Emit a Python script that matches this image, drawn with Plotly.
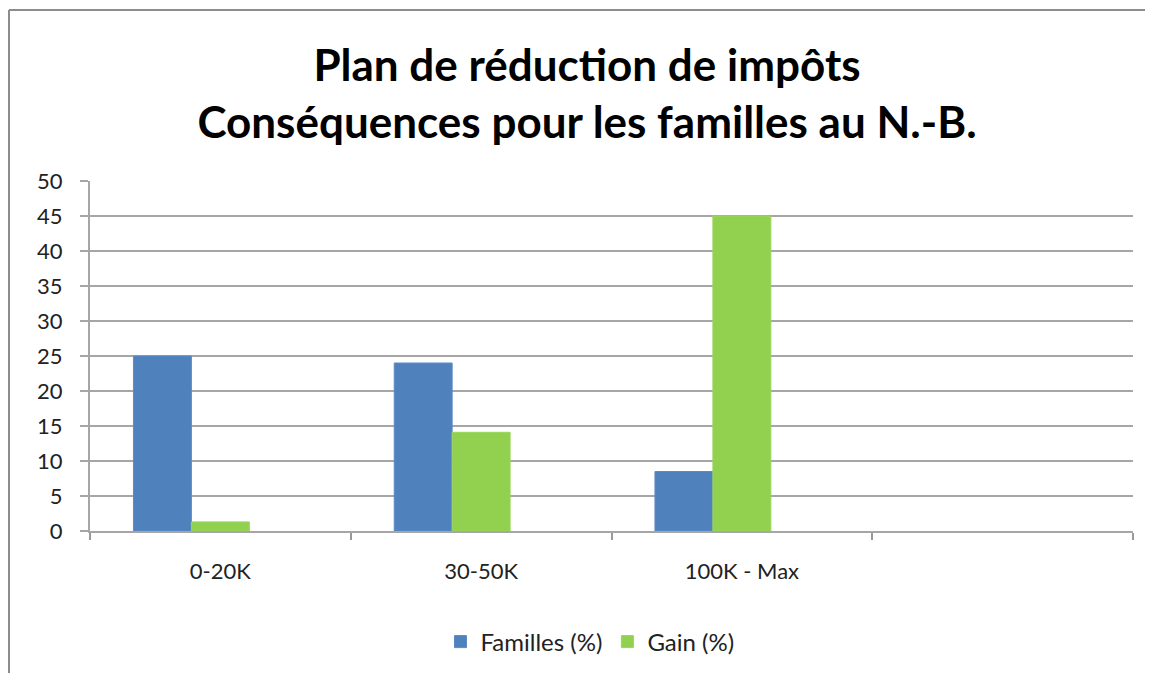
import plotly.graph_objects as go

categories = ["0-20K", "30-50K", "100K - Max", " "]
familles = [25, 24, 8.5, None]
gain = [1.3, 14.1, 45, None]
empty_series = [None, None, None, None]

title_line1 = "Plan de réduction de impôts"
title_line2 = "Conséquences pour les familles au N.-B."

OFF = 8  # page body margin
W, H = 1145, 665
L, T = 82, 173
R = W - (1133 - OFF)
B = H - (531 - OFF)
pw, ph = W - L - R, H - T - B

def px_x(x):
    return (x - OFF - L) / pw

def px_y(y):
    return (H - B - (y - OFF)) / ph

FONT = "Lato, Carlito, Calibri, sans-serif"

fig = go.Figure()
fig.add_trace(go.Bar(x=categories, y=familles, name="Familles (%)",
                     marker=dict(color="#4F81BD", line=dict(color="#5B8BC6", width=1))))
fig.add_trace(go.Bar(x=categories, y=gain, name="Gain (%)",
                     marker=dict(color="#92D050", line=dict(color="#9AD65A", width=1))))
fig.add_trace(go.Bar(x=categories, y=empty_series, name="", showlegend=False,
                     marker=dict(color="#C0504D")))

fig.update_layout(
    width=W, height=H,
    margin=dict(l=L, r=R, t=T, b=B, autoexpand=False),
    paper_bgcolor="white", plot_bgcolor="white",
    barmode="group", bargap=1/3, bargroupgap=0,
    font=dict(family=FONT, size=22, color="#222222"),
    title=dict(text=title_line1 + "<br>" + title_line2,
               x=(587 - OFF) / W, xanchor="center",
               y=1 - 73 / H, yanchor="top", yref="container",
               font=dict(family=FONT, size=44, color="#000000", weight="bold")),
    legend=dict(orientation="h", x=px_x(590), xanchor="center",
                y=px_y(642), yanchor="middle",
                font=dict(size=24, color="#222222"),
                traceorder="normal"),
    showlegend=True,
)

fig.update_xaxes(type="category", categoryorder="array", categoryarray=categories,
                 tickson="boundaries", ticks="outside", ticklen=7, tickcolor="#999999",
                 tickwidth=2, showline=True, linecolor="#A6A6A6", linewidth=2,
                 showgrid=False, tickfont=dict(size=22), range=[-0.5, 3.5],
                 ticklabelstandoff=20)
fig.update_yaxes(range=[0, 50], dtick=5, ticks="outside", ticklen=8,
                 tickcolor="#A6A6A6", tickwidth=2, showline=True,
                 linecolor="#A6A6A6", linewidth=2, showgrid=True,
                 gridcolor="#A6A6A6", gridwidth=2, zeroline=False,
                 tickfont=dict(size=22), ticklabelstandoff=13)

# outer chart frame: top and left edges, kept inside the figure
fig.add_shape(type="line", xref="paper", yref="paper",
              x0=px_x(9), x1=px_x(OFF + W), y0=px_y(10), y1=px_y(10),
              line=dict(color="#8C8C8C", width=2), layer="below")
fig.add_shape(type="line", xref="paper", yref="paper",
              x0=px_x(9), x1=px_x(9), y0=px_y(10), y1=px_y(OFF + H),
              line=dict(color="#8C8C8C", width=2), layer="below")

fig.write_html("out.html")
